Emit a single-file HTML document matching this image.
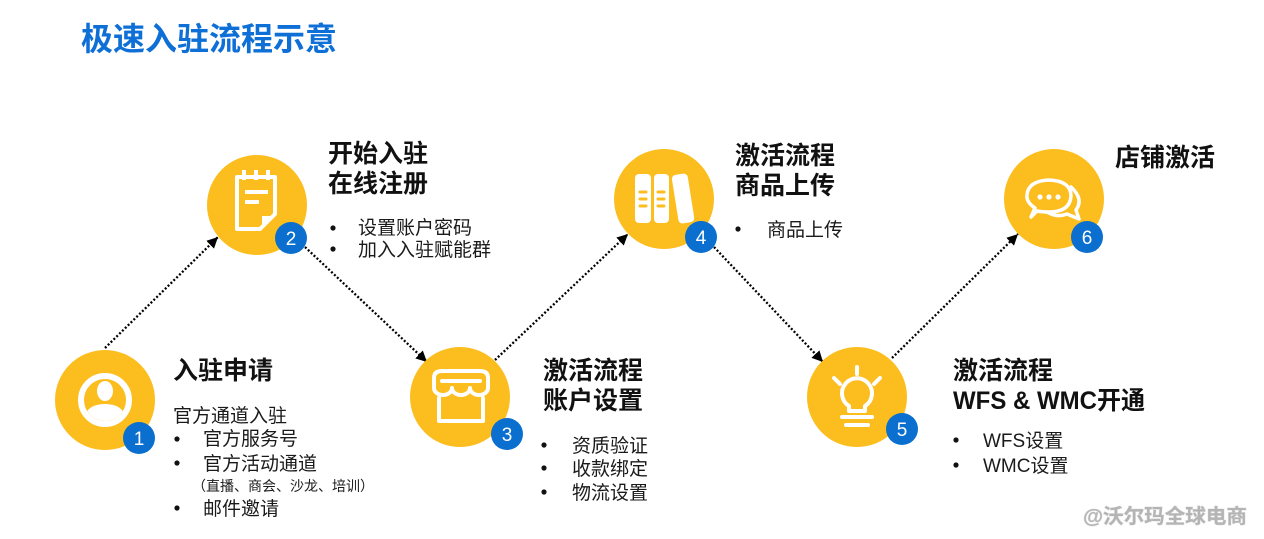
<!DOCTYPE html>
<html><head><meta charset="utf-8"><style>
html,body{margin:0;padding:0;background:#fff;}
svg{display:block;}
text{font-family:"Liberation Sans","Noto Sans CJK SC",sans-serif;}
.h{font-size:25px;font-weight:700;fill:#111;}
.b{font-size:19px;fill:#1a1a1a;}
.n{font-size:19px;fill:#fff;font-weight:400;}
</style></head><body>
<svg width="1264" height="539" viewBox="0 0 1264 539" xmlns="http://www.w3.org/2000/svg">
<defs>
<marker id="ah" markerUnits="userSpaceOnUse" markerWidth="11" markerHeight="11" refX="10" refY="5" orient="auto" viewBox="0 0 10 10">
<path d="M0,0 L10,5 L0,10 z" fill="#000"/>
</marker>
<clipPath id="c1"><circle cx="105" cy="400" r="21"/></clipPath>
</defs>

<!-- title -->
<text x="81" y="50" style="font-size:32px;font-weight:700;fill:#0E6FD6;">极速入驻流程示意</text>

<!-- connectors -->
<g stroke="#000" stroke-width="2.3" stroke-dasharray="2 2" fill="none" marker-end="url(#ah)">
<line x1="105" y1="348" x2="218" y2="237"/>
<line x1="305" y1="247" x2="427" y2="362"/>
<line x1="495" y1="360" x2="628" y2="234"/>
<line x1="714" y1="247" x2="823" y2="362"/>
<line x1="892" y1="358" x2="1018" y2="234"/>
</g>

<!-- circles -->
<g fill="#FCBD1E">
<circle cx="105" cy="400" r="50"/>
<circle cx="257" cy="205" r="50"/>
<circle cx="460" cy="397" r="50"/>
<circle cx="664" cy="199" r="50"/>
<circle cx="857" cy="397" r="50"/>
<circle cx="1054" cy="199" r="50"/>
</g>

<!-- icon 1: person -->
<circle cx="105" cy="400" r="24" fill="none" stroke="#fff" stroke-width="6"/>
<g clip-path="url(#c1)" fill="#fff">
<ellipse cx="105" cy="391" rx="8" ry="10"/>
<path d="M83,426 Q83,404 105,404 Q127,404 127,426 Z"/>
</g>

<!-- icon 2: notepad -->
<g stroke="#fff" stroke-width="4" fill="none" stroke-linejoin="round">
<path d="M237,177 H275 V214 L260,229 H237 Z"/>
<line x1="244" y1="170" x2="244" y2="180"/>
<line x1="256" y1="170" x2="256" y2="180"/>
<line x1="268" y1="170" x2="268" y2="180"/>
<line x1="245" y1="192" x2="268" y2="192"/>
<line x1="245" y1="202" x2="259" y2="202"/>
</g>
<path d="M262,226 V216 H272 Z" fill="#fff"/>

<!-- icon 3: store -->
<g stroke="#fff" stroke-width="4" fill="none" stroke-linejoin="round" stroke-linecap="round">
<path d="M434,388 V378 Q434,371 442,371 H480 Q488,371 488,378 V388 A9,7 0 0 1 470,388 A9,7 0 0 1 452,388 A9,7 0 0 1 434,388"/>
<line x1="442" y1="381" x2="480" y2="381"/>
<path d="M439,398 V421 H483 V398"/>
</g>

<!-- icon 4: books -->
<g fill="#fff">
<rect x="635" y="174" width="16" height="49" rx="4"/>
<rect x="654" y="174" width="15" height="49" rx="4"/>
<rect x="675" y="174" width="16" height="49" rx="4" transform="rotate(-9 683 198)"/>
</g>
<g stroke="#FCBD1E" stroke-width="3" stroke-linecap="round">
<line x1="640" y1="192" x2="646" y2="192"/>
<line x1="640" y1="199" x2="646" y2="199"/>
<line x1="640" y1="206" x2="646" y2="206"/>
<line x1="658" y1="192" x2="664" y2="192"/>
<line x1="658" y1="199" x2="664" y2="199"/>
<line x1="658" y1="206" x2="664" y2="206"/>
</g>

<!-- icon 5: bulb -->
<g stroke="#fff" stroke-width="4" fill="none" stroke-linecap="round" stroke-linejoin="round">
<line x1="857" y1="367" x2="857" y2="374"/>
<line x1="834" y1="378" x2="840" y2="384"/>
<line x1="880" y1="378" x2="874" y2="384"/>
<path d="M849,411 L849,406 A15,15 0 1,1 865,406 L865,411 Z"/>
<line x1="842" y1="417" x2="872" y2="417"/>
<line x1="846" y1="425" x2="868" y2="425"/>
</g>

<!-- icon 6: chat -->
<g stroke="#fff" stroke-width="3.5" fill="none" stroke-linejoin="round" stroke-linecap="round">
<path d="M1071,187 Q1084,199 1076,210 L1079,219 L1067,214 Q1057,218 1047,212"/>
<path d="M1035,208 Q1026,202 1027,195 Q1028,181 1049,180 Q1071,181 1071,196 Q1070,212 1049,212 Q1042,212 1037,211 L1031,217 Z" fill="#FCBD1E"/>
</g>
<g fill="#fff">
<circle cx="1040" cy="197" r="2.6"/>
<circle cx="1049" cy="197" r="2.6"/>
<circle cx="1058" cy="197" r="2.6"/>
</g>

<!-- badges -->
<g fill="#0A6FCF">
<circle cx="139" cy="438" r="16"/>
<circle cx="291" cy="238" r="16"/>
<circle cx="507" cy="434" r="16"/>
<circle cx="701" cy="237" r="16"/>
<circle cx="902" cy="429" r="16"/>
<circle cx="1087" cy="237" r="16"/>
</g>
<g class="n" text-anchor="middle">
<text class="n" x="139" y="445">1</text>
<text class="n" x="291" y="245">2</text>
<text class="n" x="507" y="441">3</text>
<text class="n" x="701" y="244">4</text>
<text class="n" x="902" y="436">5</text>
<text class="n" x="1087" y="244">6</text>
</g>

<!-- bullets -->
<g fill="#111">
<circle cx="177" cy="439" r="2.6"/>
<circle cx="177" cy="463" r="2.6"/>
<circle cx="177" cy="508" r="2.6"/>
<circle cx="333" cy="228" r="2.6"/>
<circle cx="333" cy="249" r="2.6"/>
<circle cx="544" cy="445" r="2.6"/>
<circle cx="544" cy="468" r="2.6"/>
<circle cx="544" cy="492" r="2.6"/>
<circle cx="738" cy="229" r="2.6"/>
<circle cx="956" cy="440" r="2.6"/>
<circle cx="956" cy="465" r="2.6"/>
</g>

<!-- node 1 text -->
<text class="h" x="173" y="379">入驻申请</text>
<text class="b" x="173" y="422">官方通道入驻</text>
<text class="b" x="203" y="445">官方服务号</text>
<text class="b" x="203" y="470">官方活动通道</text>
<text x="192" y="491" style="font-size:14px;fill:#1a1a1a;">（直播、商会、沙龙、培训）</text>
<text class="b" x="203" y="515">邮件邀请</text>

<!-- node 2 text -->
<text class="h" x="328" y="162">开始入驻</text>
<text class="h" x="328" y="192">在线注册</text>
<text class="b" x="358" y="234">设置账户密码</text>
<text class="b" x="358" y="256">加入入驻赋能群</text>

<!-- node 3 text -->
<text class="h" x="543" y="379">激活流程</text>
<text class="h" x="543" y="409">账户设置</text>
<text class="b" x="572" y="452">资质验证</text>
<text class="b" x="572" y="475">收款绑定</text>
<text class="b" x="572" y="499">物流设置</text>

<!-- node 4 text -->
<text class="h" x="735" y="164">激活流程</text>
<text class="h" x="735" y="194">商品上传</text>
<text class="b" x="767" y="236">商品上传</text>

<!-- node 5 text -->
<text class="h" x="953" y="379">激活流程</text>
<text class="h" x="953" y="409" textLength="192" lengthAdjust="spacingAndGlyphs">WFS &amp; WMC开通</text>
<text class="b" x="983" y="447">WFS设置</text>
<text class="b" x="983" y="472">WMC设置</text>

<!-- node 6 text -->
<text class="h" x="1115" y="166">店铺激活</text>

<!-- watermark -->
<text x="1083" y="523" style="font-size:20px;font-weight:700;fill:#b4b4b4;stroke:#e6e6e6;stroke-width:1;paint-order:stroke;" textLength="164" lengthAdjust="spacingAndGlyphs">@沃尔玛全球电商</text>
</svg>
</body></html>
